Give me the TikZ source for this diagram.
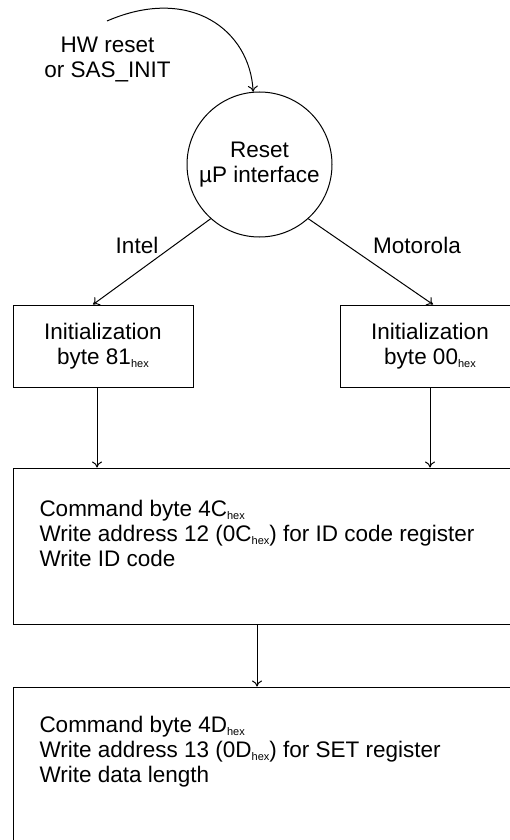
\documentclass[tikz,border=0pt]{standalone}
\usepackage{fontspec}
\setmainfont{Liberation Sans}
\usetikzlibrary{arrows.meta}
\newcommand{\hexsub}{\raisebox{-3pt}{\fontsize{11}{12}\selectfont hex}}
\begin{document}
\begin{tikzpicture}[x=1pt,y=-1pt,line width=1pt,>={To[length=6pt,width=10pt]},
    every node/.style={font=\fontsize{22.5}{25}\selectfont},
    state/.style={draw,circle,minimum size=145pt,inner sep=0pt,align=center},
    block/.style={draw,rectangle,inner sep=0pt,align=center}]
  \clip (0,0) rectangle (510,840);
  \node[state] (reset) at (259.5,164.5) {Reset\\µP interface};
  \node[align=center] (hw) at (107.5,59) {HW reset\\or SAS\_INIT};
  \coordinate (hwstart) at (107,21);
  \node (intel) at (137,245) {Intel};
  \node (moto) at (417,245) {Motorola};
  \node[block,minimum width=180pt,minimum height=82pt] (init81) at (103,346) {Initialization\\byte 81\hexsub};
  \node[block,minimum width=180pt,minimum height=82pt] (init00) at (430,346) {Initialization\\byte 00\hexsub};
  \node[block,minimum width=520pt,minimum height=156pt] (idcode) at (273,546) {};
  \node[block,minimum width=520pt,minimum height=156pt] (setreg) at (273,765) {};
  \node[anchor=west,align=left,inner sep=0pt] (idtext) at (39,533)
    {Command byte 4C\hexsub\\Write address 12 (0C\hexsub) for ID code register\\Write ID code};
  \node[anchor=west,align=left,inner sep=0pt] (settext) at (39,752)
    {Command byte 4D\hexsub\\Write address 13 (0D\hexsub) for SET register\\Write data length};
  \begin{scope}[->]
    \draw (hwstart) .. controls (190,-15) and (250,30) .. (reset.95);
    \draw (reset.228) -- ([xshift=-10pt]init81.north);
    \draw (reset.312) -- ([xshift=3pt]init00.north);
    \draw ([xshift=-6pt]init81.south) -- ([xshift=-6pt]init81.south |- idcode.north);
    \draw (init00.south) -- (init00.south |- idcode.north);
    \draw (idcode.south -| 257,0) -- (setreg.north -| 257,0);
  \end{scope}
\end{tikzpicture}
\end{document}
